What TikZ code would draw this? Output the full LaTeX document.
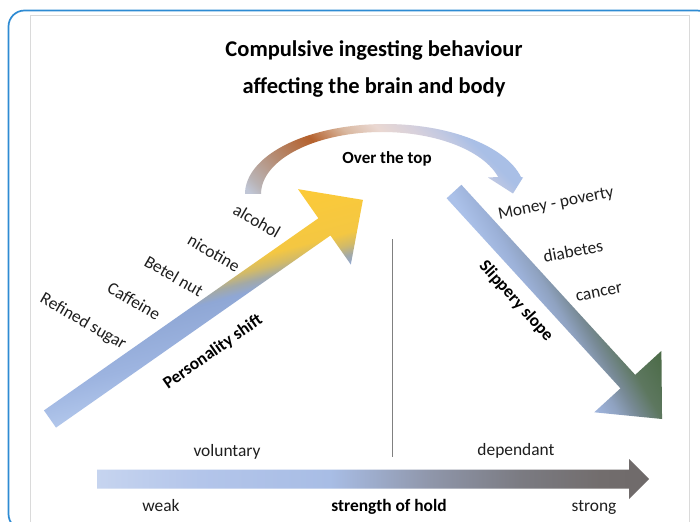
\documentclass[tikz,border=0pt]{standalone}
\usepackage{fontspec}
\setmainfont{Carlito}
\definecolor{frameblue}{HTML}{2E8BD3}
\definecolor{framegrey}{HTML}{DADADA}
\definecolor{txt}{HTML}{1E1E1E}
\definecolor{vline}{HTML}{808080}
% up arrow colours
\definecolor{ua}{HTML}{B3C8EC}
\definecolor{ub}{HTML}{9DB4E0}
\definecolor{uc}{HTML}{8FA7D5}
\definecolor{ud}{HTML}{A3A9A6}
\definecolor{ue}{HTML}{D2BA68}
\definecolor{uf}{HTML}{F4C742}
\definecolor{ug}{HTML}{FCCA38}
% down arrow colours
\definecolor{da}{HTML}{ABC1E9}
\definecolor{db}{HTML}{9CB1D8}
\definecolor{dc}{HTML}{8FA2C0}
\definecolor{dd}{HTML}{788A96}
\definecolor{de}{HTML}{5D775F}
\definecolor{df}{HTML}{4A6A45}
% bottom arrow colours
\definecolor{ba}{HTML}{C6D4EF}
\definecolor{bb}{HTML}{B3C5EA}
\definecolor{bc}{HTML}{A8BDE5}
\definecolor{bd}{HTML}{8F96AA}
\definecolor{be}{HTML}{7B7B82}
\definecolor{bf}{HTML}{726D6D}
\definecolor{bg}{HTML}{6F6A6A}
% curved arrow colours
\definecolor{ca}{HTML}{C0C6D6}
\definecolor{cb}{HTML}{B9B3B5}
\definecolor{cc}{HTML}{B58A70}
\definecolor{cd}{HTML}{B5612D}
\definecolor{ce}{HTML}{D9B8A0}
\definecolor{cf}{HTML}{EAD8D2}
\definecolor{cg}{HTML}{D6D0DC}
\definecolor{ch}{HTML}{C0C8E2}
\definecolor{ci}{HTML}{A9BFE6}
\pgfdeclareverticalshading{upshade}{100bp}{color(0bp)=(ua); color(42bp)=(ua); color(46bp)=(ub); color(50.4bp)=(uc); color(51.4bp)=(ud); color(52.4bp)=(ue); color(53.6bp)=(uf); color(59bp)=(ug); color(100bp)=(ug)}
\pgfdeclarehorizontalshading{downshade}{100bp}{color(0bp)=(da); color(46.5bp)=(da); color(48.5bp)=(db); color(50bp)=(dc); color(51.5bp)=(dd); color(53.5bp)=(de); color(57bp)=(df); color(100bp)=(df)}
\pgfdeclarehorizontalshading{botshade}{100bp}{color(0bp)=(ba); color(25bp)=(ba); color(34.3bp)=(bb); color(46.1bp)=(bc); color(55.2bp)=(bd); color(63.3bp)=(be); color(70.6bp)=(bf); color(75bp)=(bg); color(100bp)=(bg)}
\pgfdeclarehorizontalshading{curveshade}{100bp}{color(0bp)=(ca); color(38.5bp)=(ca); color(39.6bp)=(cb); color(42.9bp)=(cc); color(46.6bp)=(cd); color(49.6bp)=(ce); color(52.1bp)=(cf); color(54.6bp)=(cg); color(56.4bp)=(ch); color(57.8bp)=(ci); color(100bp)=(ci)}
\begin{document}
\begin{tikzpicture}[x=1pt,y=-1pt,
  lbl/.style={font=\fontsize{17.4}{20}\selectfont, inner sep=0pt, text=txt},
  blbl/.style={font=\fontsize{17.4}{20}\selectfont\bfseries, inner sep=0pt, text=black},
  ttl/.style={font=\fontsize{22.5}{26}\selectfont\bfseries, inner sep=0pt, text=black}]
\useasboundingbox (0,0) rectangle (700,521);
\fill[white] (0,0) rectangle (700,521);
% frames
\draw[framegrey, line width=1pt] (30,15.5) rectangle (689,540);
\draw[frameblue, line width=1.7pt, rounded corners=16pt] (8.5,10.5) rectangle (713,530);

% ---------- up arrow geometry
\begin{scope}[shift={(50,419)}, rotate=35]
  \coordinate (ua1) at (0,-10.5);
  \coordinate (ua2) at (335,-10.5);
  \coordinate (ua3) at (335,-46);
  \coordinate (ua4) at (382,0);
  \coordinate (ua5) at (335,46);
  \coordinate (ua6) at (335,10.5);
  \coordinate (ua7) at (0,10.5);
\end{scope}
\begin{scope}
  \clip (ua1) -- (ua2) -- (ua3) -- (ua4) -- (ua5) -- (ua6) -- (ua7) -- cycle;
  \begin{scope}[transform canvas={rotate around={15:(204,308)}}]
    \shade[shading=upshade] (-46,58) rectangle (454,558);
  \end{scope}
\end{scope}

% ---------- down arrow geometry
\begin{scope}[shift={(454,191.5)}, rotate=-47.56]
  \coordinate (da1) at (0,-10);
  \coordinate (da2) at (257.6,-10);
  \coordinate (da3) at (257.6,-45.5);
  \coordinate (da4) at (308.3,0);
  \coordinate (da5) at (257.6,45.5);
  \coordinate (da6) at (257.6,10);
  \coordinate (da7) at (0,10);
\end{scope}
\begin{scope}
  \clip (da1) -- (da2) -- (da3) -- (da4) -- (da5) -- (da6) -- (da7) -- cycle;
  \begin{scope}[transform canvas={rotate around={30:(554,302)}}]
    \shade[shading=downshade] (304,52) rectangle (804,552);
  \end{scope}
\end{scope}

% ---------- curved arrow (over the top)
\begin{scope}
  \clip plot[domain=180:14, samples=70] ({385.1+140.1*cos(\x)},{194-70*sin(\x)})
     -- (523,177.5) -- (513,193.5) -- (488,177.5)
     -- plot[domain=15.9:180, samples=70] ({381.9+120.9*cos(\x)},{194-62*sin(\x)}) -- cycle;
  \begin{scope}[transform canvas={rotate around={45:(380,160)}}]
    \shade[shading=curveshade] (130,-90) rectangle (630,410);
  \end{scope}
\end{scope}

% ---------- bottom arrow
\shade[shading=botshade] (97,469.5) -- (629,469.5) -- (629,459) -- (649,479) -- (629,499) -- (629,488.5) -- (97,488.5) -- cycle;

% ---------- divider line
\coordinate (vtop) at (392.5,239);
\coordinate (vbot) at (392.5,457);
\draw[vline, line width=1.2pt] (vtop) -- (vbot);

% ---------- texts
\node[ttl] (t1) at (374,50) {Compulsive ingesting behaviour};
\node[ttl] (t2) at (374,87) {affecting the brain and body};
\node[blbl, font=\fontsize{17}{20}\selectfont\bfseries] (top) at (387,159) {Over the top};

\node[lbl, rotate=-30] (alc) at (257,221) {alcohol};
\node[lbl, rotate=-30] (nic) at (214,253) {nicotine};
\node[lbl, rotate=-30] (bet) at (174,276) {Betel nut};
\node[lbl, rotate=-30] (caf) at (134,301) {Caffeine};
\node[lbl, rotate=-30] (sug) at (83,322) {Refined sugar};
\node[blbl, rotate=35] (pers) at (213,352) {Personality shift};

\node[lbl, rotate=11] (mon) at (556,204) {Money - poverty};
\node[lbl, rotate=11] (dia) at (573,251) {diabetes};
\node[lbl, rotate=11] (can) at (599,293) {cancer};
\node[blbl, rotate=-48] (slip) at (516,301) {Slippery slope};

\node[lbl] (vol) at (227,452) {voluntary};
\node[lbl] (dep) at (516,451) {dependant};
\node[lbl] (weak) at (161,506) {weak};
\node[blbl] (hold) at (389,507) {strength of hold};
\node[lbl] (strong) at (594,507) {strong};
\end{tikzpicture}
\end{document}
